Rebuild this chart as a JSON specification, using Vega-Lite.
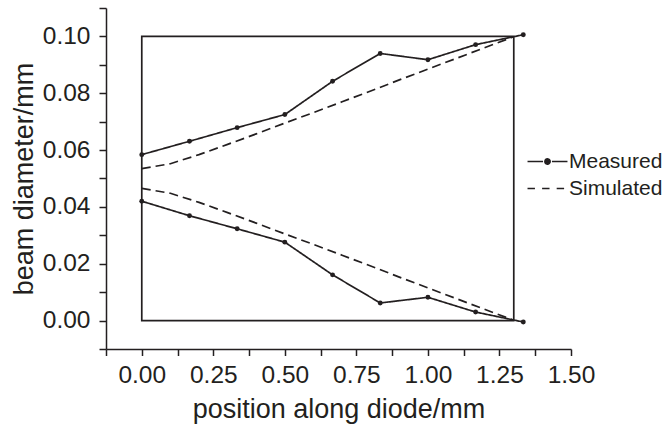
{
  "$schema": "https://vega.github.io/schema/vega-lite/v6.json",
  "autosize": {"type": "none"},
  "padding": {"left": 106, "top": 8, "right": 94, "bottom": 79},
  "width": 465,
  "height": 341,
  "background": "white",
  "datasets": {
    "curves": [
      {"x": 0, "y": 0.0584, "series": "Measured", "branch": "upper"},
      {"x": 0.1667, "y": 0.0631, "series": "Measured", "branch": "upper"},
      {"x": 0.3333, "y": 0.0679, "series": "Measured", "branch": "upper"},
      {"x": 0.5, "y": 0.0725, "series": "Measured", "branch": "upper"},
      {"x": 0.6667, "y": 0.0842, "series": "Measured", "branch": "upper"},
      {"x": 0.8333, "y": 0.094, "series": "Measured", "branch": "upper"},
      {"x": 1.0, "y": 0.0918, "series": "Measured", "branch": "upper"},
      {"x": 1.1667, "y": 0.0971, "series": "Measured", "branch": "upper"},
      {"x": 1.3333, "y": 0.1006, "series": "Measured", "branch": "upper"},
      {"x": 0, "y": 0.042, "series": "Measured", "branch": "lower"},
      {"x": 0.1667, "y": 0.0369, "series": "Measured", "branch": "lower"},
      {"x": 0.3333, "y": 0.0323, "series": "Measured", "branch": "lower"},
      {"x": 0.5, "y": 0.0276, "series": "Measured", "branch": "lower"},
      {"x": 0.6667, "y": 0.0161, "series": "Measured", "branch": "lower"},
      {"x": 0.8333, "y": 0.0062, "series": "Measured", "branch": "lower"},
      {"x": 1.0, "y": 0.0082, "series": "Measured", "branch": "lower"},
      {"x": 1.1667, "y": 0.003, "series": "Measured", "branch": "lower"},
      {"x": 1.3333, "y": -0.0005, "series": "Measured", "branch": "lower"},
      {"x": 0, "y": 0.0535, "series": "Simulated", "branch": "upper"},
      {"x": 0.1, "y": 0.0552, "series": "Simulated", "branch": "upper"},
      {"x": 0.2, "y": 0.0584, "series": "Simulated", "branch": "upper"},
      {"x": 0.3, "y": 0.062, "series": "Simulated", "branch": "upper"},
      {"x": 0.4, "y": 0.0657, "series": "Simulated", "branch": "upper"},
      {"x": 0.5, "y": 0.0695, "series": "Simulated", "branch": "upper"},
      {"x": 0.6, "y": 0.0732, "series": "Simulated", "branch": "upper"},
      {"x": 0.7, "y": 0.077, "series": "Simulated", "branch": "upper"},
      {"x": 0.8, "y": 0.0808, "series": "Simulated", "branch": "upper"},
      {"x": 0.9, "y": 0.0847, "series": "Simulated", "branch": "upper"},
      {"x": 1.0, "y": 0.0885, "series": "Simulated", "branch": "upper"},
      {"x": 1.1, "y": 0.0923, "series": "Simulated", "branch": "upper"},
      {"x": 1.2, "y": 0.0961, "series": "Simulated", "branch": "upper"},
      {"x": 1.3, "y": 0.0999, "series": "Simulated", "branch": "upper"},
      {"x": 0, "y": 0.0465, "series": "Simulated", "branch": "lower"},
      {"x": 0.1, "y": 0.0448, "series": "Simulated", "branch": "lower"},
      {"x": 0.2, "y": 0.0416, "series": "Simulated", "branch": "lower"},
      {"x": 0.3, "y": 0.038, "series": "Simulated", "branch": "lower"},
      {"x": 0.4, "y": 0.0343, "series": "Simulated", "branch": "lower"},
      {"x": 0.5, "y": 0.0305, "series": "Simulated", "branch": "lower"},
      {"x": 0.6, "y": 0.0268, "series": "Simulated", "branch": "lower"},
      {"x": 0.7, "y": 0.023, "series": "Simulated", "branch": "lower"},
      {"x": 0.8, "y": 0.0192, "series": "Simulated", "branch": "lower"},
      {"x": 0.9, "y": 0.0153, "series": "Simulated", "branch": "lower"},
      {"x": 1.0, "y": 0.0115, "series": "Simulated", "branch": "lower"},
      {"x": 1.1, "y": 0.0077, "series": "Simulated", "branch": "lower"},
      {"x": 1.2, "y": 0.0039, "series": "Simulated", "branch": "lower"},
      {"x": 1.3, "y": 0.0001, "series": "Simulated", "branch": "lower"}
    ],
    "frame": [
      {"x": 0, "x2": 1.3, "y": 0, "y2": 0.1}
    ]
  },
  "encoding": {
    "x": {
      "field": "x",
      "type": "quantitative",
      "scale": {"domain": [-0.125, 1.5], "nice": false, "zero": false},
      "axis": {
        "title": "position along diode/mm",
        "values": [-0.125, 0, 0.125, 0.25, 0.375, 0.5, 0.625, 0.75, 0.875, 1, 1.125, 1.25, 1.375, 1.5],
        "format": ".2f",
        "labelExpr": "abs(datum.value*4 - round(datum.value*4)) < 0.001 ? datum.label : ''",
        "tickSize": 6.5,
        "labelPadding": 8,
        "titlePadding": 9,
        "labelFlush": false,
        "labelOverlap": false
      }
    },
    "y": {
      "field": "y",
      "type": "quantitative",
      "scale": {"domain": [-0.01, 0.11], "nice": false, "zero": false},
      "axis": {
        "title": "beam diameter/mm",
        "values": [-0.01, 0, 0.01, 0.02, 0.03, 0.04, 0.05, 0.06, 0.07, 0.08, 0.09, 0.1, 0.11],
        "format": ".2f",
        "labelExpr": "abs(datum.value*50 - round(datum.value*50)) < 0.001 ? datum.label : ''",
        "tickSize": 7,
        "labelPadding": 9,
        "titlePadding": 4,
        "labelFlush": false,
        "labelOverlap": false
      }
    }
  },
  "layer": [
    {
      "data": {"name": "frame"},
      "mark": {"type": "rect", "fill": null, "fillOpacity": 0, "stroke": "#231f20", "strokeWidth": 1.7},
      "encoding": {
        "x2": {"field": "x2"},
        "y2": {"field": "y2"}
      }
    },
    {
      "data": {"name": "curves"},
      "mark": {"type": "line", "color": "#231f20", "strokeWidth": 1.7},
      "encoding": {
        "detail": {"field": "branch", "type": "nominal"},
        "strokeDash": {
          "field": "series",
          "type": "nominal",
          "scale": {"domain": ["Measured", "Simulated"], "range": [[1, 0], [9, 5]]},
          "legend": {
            "title": null,
            "orient": "none",
            "legendX": 427,
            "legendY": 139,
            "padding": 0,
            "rowPadding": 2,
            "symbolSize": 729,
            "symbolStrokeWidth": 1.7,
            "symbolStrokeColor": "#231f20",
            "labelFont": "Liberation Sans",
            "labelFontSize": 21,
            "labelColor": "#231f20",
            "labelOffset": 7,
            "encode": {
              "symbols": {
                "update": {
                  "shape": {"signal": "datum.value === 'Measured' ? 'M-1.48,0H-0.33M0.33,0H1.48M-0.19,0A0.19,0.19,0,1,1,0.19,0A0.19,0.19,0,1,1,-0.19,0Z' : 'M-1.48,0H-0.93M-0.4,0H0.15M0.68,0H1.23'"},
                  "fill": {"signal": "datum.value === 'Measured' ? '#231f20' : 'transparent'"},
                  "stroke": {"value": "#231f20"},
                  "strokeWidth": {"value": 1.7},
                  "strokeOpacity": {"value": 1},
                  "opacity": {"value": 1},
                  "strokeDash": {"value": [1, 0]}
                }
              }
            }
          }
        }
      }
    },
    {
      "data": {"name": "curves"},
      "transform": [{"filter": "datum.series === 'Measured'"}],
      "mark": {"type": "point", "filled": true, "color": "#231f20", "size": 24, "opacity": 1}
    }
  ],
  "config": {
    "view": {"stroke": null},
    "axis": {
      "grid": false,
      "domainColor": "#231f20",
      "domainWidth": 1.5,
      "tickColor": "#231f20",
      "tickWidth": 1.5,
      "labelColor": "#231f20",
      "titleColor": "#231f20",
      "labelFont": "Liberation Sans",
      "titleFont": "Liberation Sans",
      "labelFontSize": 24.5,
      "titleFontSize": 27,
      "titleFontWeight": "normal"
    }
  }
}
